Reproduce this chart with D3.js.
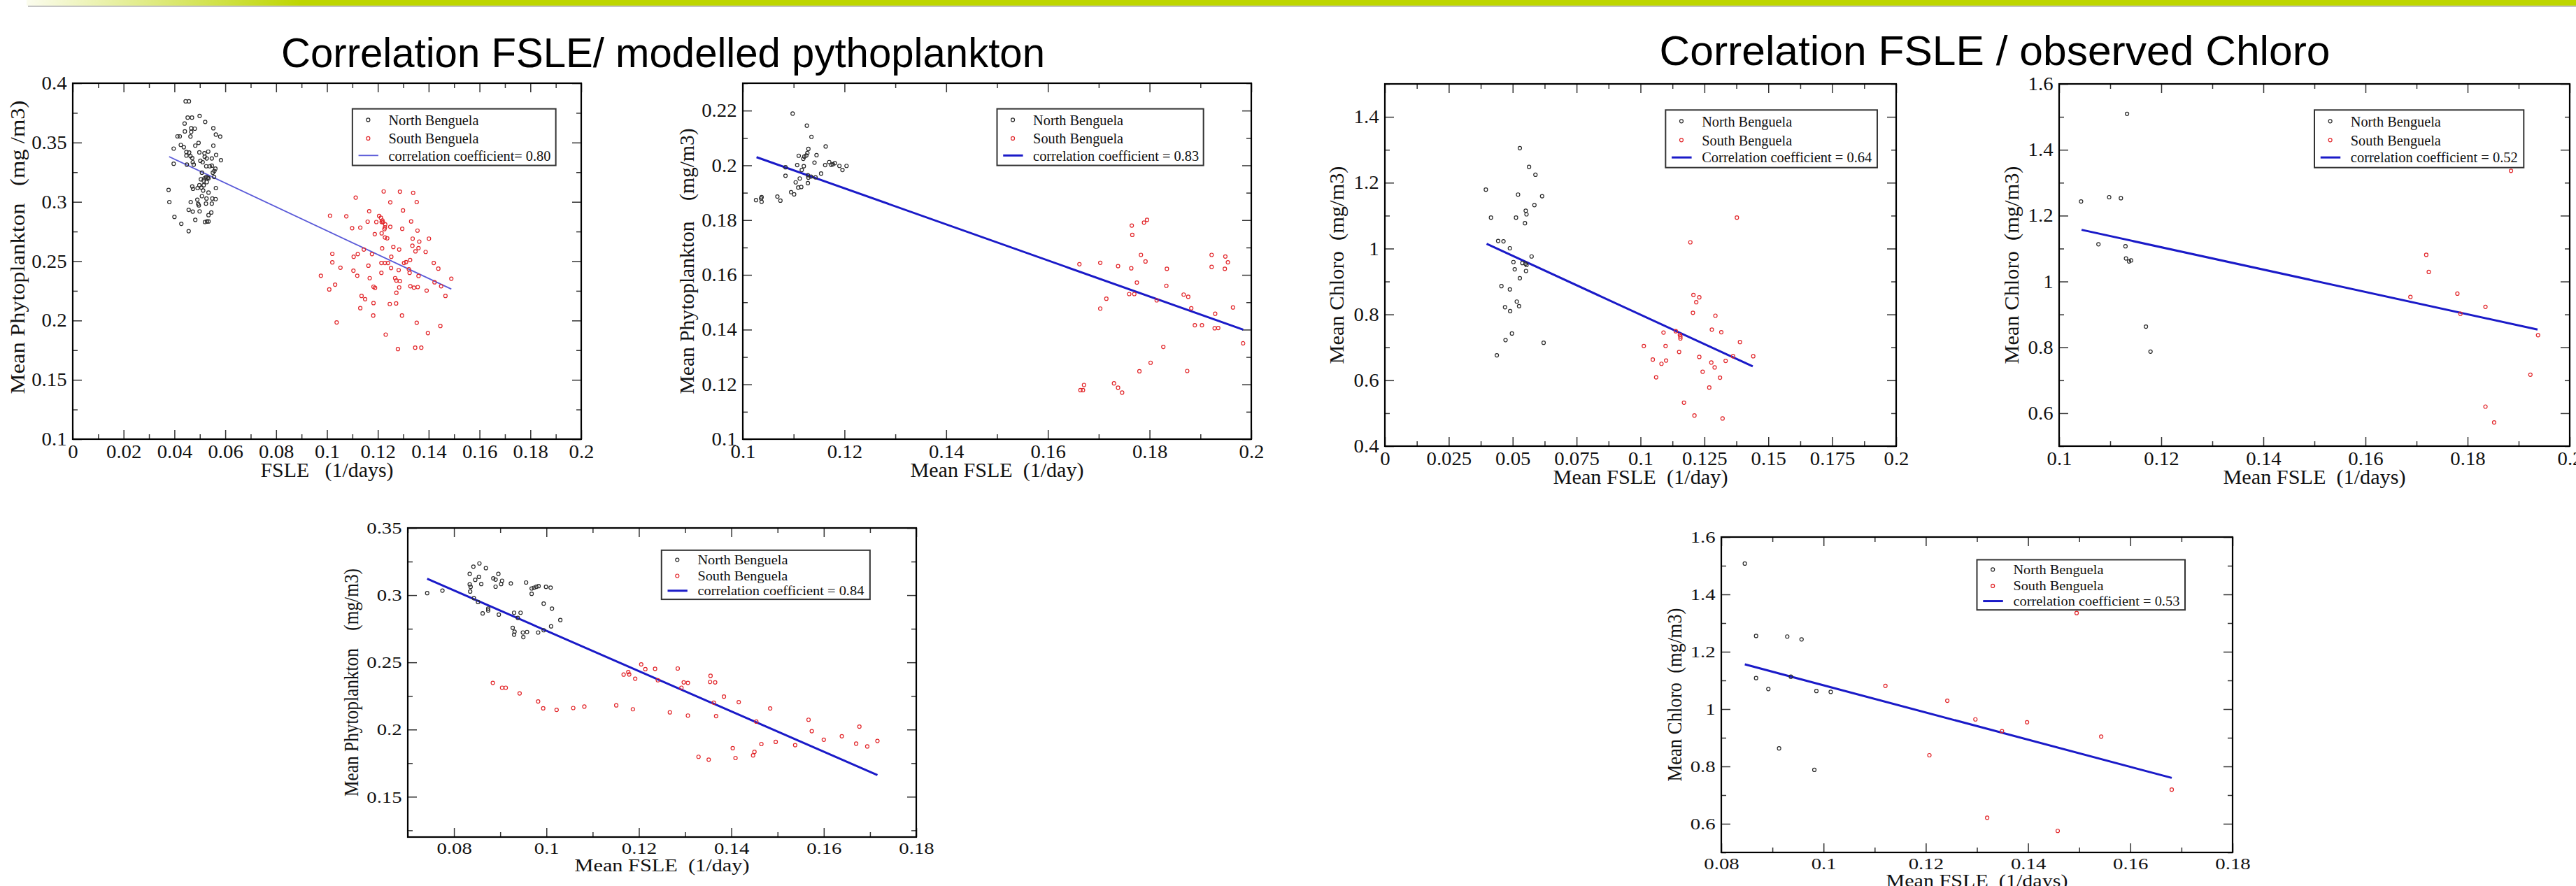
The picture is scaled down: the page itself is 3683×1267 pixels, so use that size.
<!DOCTYPE html>
<html>
<head>
<meta charset="utf-8">
<script src="https://cdn.jsdelivr.net/npm/d3@7"></script>
<style>
body { margin: 0; background: #fff; }
text { white-space: pre; }
</style>
</head>
<body>
<div class="svg-container"></div>
<script>
// Slide titles
var slideTitles = ['Correlation FSLE/ modelled pythoplankton', 'Correlation FSLE / observed Chloro'];
var seriesNames = ['North Benguela', 'South Benguela'];

// Axis titles and legend labels, one per panel
var xTitles = ['FSLE   (1/days)', 'Mean FSLE  (1/day)', 'Mean FSLE  (1/day)', 'Mean FSLE  (1/days)', 'Mean FSLE  (1/day)', 'Mean FSLE  (1/days)'];
var yTitles = ['Mean Phytoplankton   (mg /m3)', 'Mean Phytoplankton    (mg/m3)', 'Mean Chloro  (mg/m3)', 'Mean Chloro  (mg/m3)', 'Mean Phytoplankton    (mg/m3)', 'Mean Chloro  (mg/m3)'];
var fitLabels = ['correlation coefficient= 0.80', 'correlation coefficient = 0.83', 'Correlation coefficient = 0.64', 'correlation coefficient = 0.52', 'correlation coefficient = 0.84', 'correlation coefficient = 0.53'];

// Panel 1: FSLE vs modelled phytoplankton
var p1North = [[0.0444,0.3847],[0.0457,0.3847],[0.0452,0.371],[0.0469,0.371],[0.0499,0.3724],[0.0521,0.3674],[0.044,0.366],[0.0466,0.362],[0.048,0.3617],[0.0466,0.359],[0.0441,0.3594],[0.0553,0.362],[0.0563,0.3567],[0.058,0.355],[0.0412,0.3552],[0.0421,0.3552],[0.0463,0.3551],[0.0495,0.3497],[0.0425,0.348],[0.0397,0.3449],[0.0437,0.346],[0.0482,0.3474],[0.0553,0.3474],[0.0447,0.342],[0.0458,0.3416],[0.0498,0.3417],[0.0518,0.341],[0.0533,0.3424],[0.0564,0.3396],[0.0447,0.339],[0.0463,0.3385],[0.047,0.3369],[0.0519,0.338],[0.0527,0.3366],[0.0547,0.3366],[0.0583,0.3351],[0.0397,0.3321],[0.0449,0.3314],[0.0472,0.3334],[0.0476,0.3314],[0.0502,0.3346],[0.0511,0.3334],[0.0525,0.33],[0.0539,0.33],[0.0547,0.3305],[0.0561,0.328],[0.0508,0.3246],[0.0551,0.3246],[0.0557,0.326],[0.0525,0.3209],[0.0531,0.3204],[0.0518,0.3198],[0.0504,0.319],[0.0515,0.318],[0.0527,0.3166],[0.0534,0.3198],[0.0556,0.321],[0.0515,0.314],[0.0498,0.314],[0.0506,0.312],[0.047,0.313],[0.0473,0.311],[0.0491,0.3116],[0.0513,0.3096],[0.0377,0.3101],[0.0563,0.3116],[0.0534,0.3078],[0.0508,0.3048],[0.0526,0.3028],[0.0549,0.3028],[0.049,0.3018],[0.038,0.2998],[0.0464,0.2998],[0.0562,0.3023],[0.0493,0.2983],[0.0496,0.297],[0.0524,0.2985],[0.0547,0.2985],[0.0456,0.2933],[0.0472,0.2918],[0.0499,0.292],[0.0545,0.291],[0.0534,0.2888],[0.04,0.2873],[0.0482,0.2848],[0.052,0.283],[0.0528,0.2835],[0.0534,0.2835],[0.0427,0.2815],[0.0456,0.2753]];
var p1South = [[0.1223,0.3088],[0.1287,0.3086],[0.1339,0.3076],[0.1113,0.3036],[0.1249,0.2996],[0.1353,0.2998],[0.1166,0.2921],[0.1299,0.2928],[0.1012,0.2883],[0.1076,0.2878],[0.1205,0.2881],[0.1212,0.2866],[0.1218,0.2843],[0.1215,0.283],[0.122,0.2828],[0.116,0.2833],[0.1194,0.283],[0.1331,0.2835],[0.1229,0.281],[0.1228,0.2785],[0.1226,0.277],[0.1099,0.2778],[0.1131,0.2783],[0.1249,0.279],[0.1296,0.2773],[0.1356,0.2758],[0.1188,0.2728],[0.1215,0.2735],[0.1228,0.27],[0.1237,0.2693],[0.1337,0.269],[0.1363,0.2665],[0.1401,0.269],[0.1336,0.263],[0.1261,0.262],[0.1217,0.2608],[0.136,0.261],[0.1284,0.2598],[0.1145,0.2598],[0.1348,0.2583],[0.1388,0.2578],[0.1021,0.2562],[0.1121,0.256],[0.1177,0.256],[0.1105,0.2537],[0.1253,0.2537],[0.1327,0.251],[0.1311,0.2492],[0.1303,0.2485],[0.1021,0.249],[0.1214,0.2485],[0.1228,0.2485],[0.124,0.2485],[0.142,0.2485],[0.1163,0.2462],[0.1053,0.2445],[0.1252,0.2442],[0.1438,0.2437],[0.1282,0.2425],[0.1104,0.242],[0.1322,0.2432],[0.1325,0.2402],[0.1214,0.2402],[0.1119,0.2377],[0.0976,0.2377],[0.136,0.2375],[0.1489,0.2352],[0.1168,0.2357],[0.1268,0.2357],[0.1273,0.2337],[0.1287,0.2332],[0.1423,0.2322],[0.1032,0.2302],[0.1328,0.2289],[0.1342,0.2277],[0.1357,0.2282],[0.1449,0.2289],[0.1284,0.2279],[0.1183,0.2285],[0.1189,0.2275],[0.1009,0.2262],[0.1392,0.2252],[0.1273,0.2234],[0.1466,0.2207],[0.1136,0.2207],[0.115,0.218],[0.1183,0.2147],[0.1247,0.2139],[0.1272,0.2144],[0.1131,0.2104],[0.1182,0.2042],[0.1295,0.2042],[0.1038,0.1984],[0.1353,0.1981],[0.1446,0.1954],[0.1231,0.1881],[0.1397,0.1894],[0.1347,0.1771],[0.1371,0.1771],[0.1279,0.1759]];
var p1Fit = [[0.0379,0.3381],[0.1489,0.2265]];

// Panel 2: mean FSLE vs modelled phytoplankton
var p2North = [[0.1098,0.2189],[0.1126,0.2145],[0.1135,0.2104],[0.1163,0.2069],[0.1129,0.206],[0.111,0.2035],[0.1125,0.2036],[0.1127,0.2045],[0.1145,0.2037],[0.1119,0.2024],[0.1121,0.2032],[0.1141,0.201],[0.117,0.2012],[0.1177,0.2004],[0.1181,0.2008],[0.1174,0.2002],[0.1162,0.2001],[0.119,0.1998],[0.1204,0.1998],[0.1196,0.1983],[0.1107,0.2001],[0.112,0.1997],[0.1116,0.1983],[0.1084,0.1993],[0.1084,0.1962],[0.1154,0.197],[0.1128,0.1964],[0.1134,0.1959],[0.1129,0.1955],[0.1112,0.1952],[0.1143,0.1956],[0.1104,0.1938],[0.1128,0.1935],[0.1109,0.1919],[0.1115,0.1921],[0.1095,0.1902],[0.1101,0.1894],[0.1026,0.1873],[0.1036,0.1879],[0.1037,0.1884],[0.1037,0.1867],[0.1068,0.1886],[0.1074,0.1871]];
var p2South = [[0.1662,0.1639],[0.1703,0.1644],[0.1738,0.1632],[0.1764,0.1624],[0.1765,0.178],[0.1766,0.1746],[0.1789,0.1791],[0.1795,0.1801],[0.1783,0.1673],[0.1792,0.1649],[0.1775,0.1572],[0.1834,0.1622],[0.1833,0.156],[0.176,0.153],[0.177,0.153],[0.1715,0.1513],[0.1814,0.1507],[0.1867,0.1528],[0.1876,0.152],[0.1882,0.1478],[0.1703,0.1477],[0.1922,0.1673],[0.1949,0.1667],[0.1922,0.1629],[0.1948,0.1622],[0.1954,0.1646],[0.1964,0.1481],[0.1929,0.1458],[0.1889,0.1416],[0.1903,0.1416],[0.1928,0.1405],[0.1935,0.1406],[0.1984,0.135],[0.1827,0.1337],[0.1802,0.1279],[0.178,0.1248],[0.1874,0.1249],[0.1664,0.1179],[0.1669,0.1179],[0.1671,0.1198],[0.173,0.1204],[0.1738,0.1188],[0.1746,0.117]];
var p2Fit = [[0.1027,0.203],[0.1984,0.14]];

// Panel 3: FSLE vs observed chlorophyll
var p3North = [[0.0528,1.305],[0.0564,1.248],[0.0589,1.224],[0.0395,1.179],[0.0521,1.164],[0.0615,1.159],[0.0585,1.132],[0.0551,1.115],[0.0554,1.104],[0.0415,1.094],[0.0513,1.094],[0.0548,1.077],[0.0443,1.023],[0.0464,1.022],[0.0489,1.001],[0.0574,0.976],[0.0503,0.959],[0.0538,0.956],[0.0554,0.95],[0.055,0.954],[0.0508,0.937],[0.0552,0.932],[0.0528,0.91],[0.0456,0.886],[0.0489,0.876],[0.0516,0.839],[0.047,0.822],[0.0525,0.825],[0.049,0.81],[0.0497,0.742],[0.0472,0.722],[0.0621,0.714],[0.0438,0.676]];
var p3South = [[0.1377,1.094],[0.1195,1.019],[0.1207,0.859],[0.123,0.852],[0.1218,0.837],[0.1205,0.805],[0.1293,0.796],[0.1279,0.754],[0.1316,0.746],[0.109,0.745],[0.1138,0.749],[0.1156,0.733],[0.1156,0.727],[0.1154,0.738],[0.1389,0.716],[0.1013,0.704],[0.1098,0.704],[0.1151,0.686],[0.123,0.671],[0.1362,0.673],[0.1441,0.673],[0.1048,0.663],[0.11,0.66],[0.1333,0.659],[0.1277,0.654],[0.1082,0.65],[0.129,0.639],[0.1243,0.626],[0.1061,0.609],[0.1311,0.608],[0.1269,0.578],[0.117,0.532],[0.1211,0.493],[0.1321,0.484]];
var p3Fit = [[0.0398,1.0144],[0.1439,0.6423]];

// Panel 4: mean FSLE vs observed chlorophyll
var p4North = [[0.1133,1.509],[0.1043,1.243],[0.1098,1.256],[0.1121,1.253],[0.1077,1.113],[0.113,1.107],[0.1131,1.07],[0.1137,1.061],[0.1141,1.064],[0.117,0.863],[0.1179,0.787]];
var p4South = [[0.1885,1.336],[0.1719,1.081],[0.1724,1.029],[0.1688,0.953],[0.178,0.963],[0.1835,0.923],[0.1786,0.902],[0.1938,0.837],[0.1923,0.717],[0.1835,0.62],[0.1852,0.572]];
var p4Fit = [[0.1044,1.157],[0.1937,0.854]];

// Panel 5: mean FSLE vs modelled phytoplankton (bottom)
var p5North = [[0.0742,0.3015],[0.0775,0.3034],[0.0855,0.3236],[0.0842,0.3212],[0.0869,0.3201],[0.0834,0.3158],[0.0896,0.3158],[0.0854,0.3136],[0.0846,0.3114],[0.0885,0.3125],[0.089,0.3116],[0.0904,0.3107],[0.0923,0.3087],[0.0859,0.3083],[0.0902,0.3083],[0.0834,0.308],[0.0836,0.3062],[0.089,0.3063],[0.0835,0.3027],[0.0956,0.3094],[0.0968,0.305],[0.0973,0.3055],[0.0978,0.3062],[0.0983,0.3067],[0.0999,0.3062],[0.1009,0.3056],[0.0968,0.301],[0.0843,0.2978],[0.0852,0.2949],[0.0874,0.29],[0.0874,0.2886],[0.0862,0.2864],[0.0897,0.2855],[0.093,0.2869],[0.0944,0.2869],[0.0938,0.2831],[0.0994,0.2937],[0.1012,0.29],[0.103,0.2815],[0.101,0.2768],[0.0927,0.2757],[0.0931,0.2728],[0.093,0.2706],[0.0949,0.2722],[0.0958,0.2726],[0.095,0.2688],[0.0982,0.2722],[0.0994,0.2739]];
var p5South = [[0.0884,0.2347],[0.0904,0.2311],[0.0912,0.2311],[0.0942,0.2269],[0.0982,0.2209],[0.0993,0.2158],[0.1022,0.2146],[0.1058,0.216],[0.1082,0.2171],[0.1151,0.218],[0.1187,0.2151],[0.1167,0.2409],[0.1179,0.241],[0.1177,0.2427],[0.1205,0.2485],[0.1214,0.2449],[0.1235,0.2452],[0.1192,0.2378],[0.1241,0.2367],[0.1284,0.2454],[0.1297,0.2351],[0.1306,0.2347],[0.1292,0.2311],[0.1355,0.24],[0.1354,0.2354],[0.1365,0.2351],[0.1362,0.22],[0.1367,0.21],[0.1384,0.2245],[0.1416,0.2204],[0.1306,0.2104],[0.1267,0.2128],[0.1484,0.2157],[0.1454,0.2059],[0.1567,0.2073],[0.1574,0.1988],[0.1677,0.2022],[0.1639,0.195],[0.16,0.1924],[0.1496,0.1908],[0.1538,0.1884],[0.1465,0.1892],[0.167,0.1895],[0.1694,0.1874],[0.1716,0.1915],[0.1403,0.1861],[0.145,0.1834],[0.1447,0.1808],[0.1409,0.1788],[0.1329,0.1797],[0.1351,0.1776]];
var p5Fit = [[0.0742,0.3122],[0.1716,0.1661]];

// Panel 6: mean FSLE vs observed chlorophyll (bottom)
var p6North = [[0.0846,1.5075],[0.0868,1.255],[0.0929,1.253],[0.0957,1.243],[0.0868,1.108],[0.0936,1.113],[0.0892,1.07],[0.0986,1.063],[0.1014,1.06],[0.0913,0.863],[0.0982,0.788]];
var p6South = [[0.1495,1.335],[0.1121,1.081],[0.1242,1.029],[0.1297,0.964],[0.1398,0.954],[0.1349,0.923],[0.1543,0.904],[0.1207,0.839],[0.1681,0.719],[0.132,0.621],[0.1458,0.575]];
var p6Fit = [[0.0846,1.156],[0.1681,0.76]];

// Axis ranges and tick steps
var xDomains = [[0, 0.2], [0.1, 0.2], [0, 0.2], [0.1, 0.2], [0.07, 0.18], [0.08, 0.18]];
var yDomains = [[0.1, 0.4], [0.1, 0.23], [0.4, 1.5], [0.5, 1.6], [0.12, 0.35], [0.5, 1.6]];
var xSteps = [0.02, 0.02, 0.025, 0.02, 0.02, 0.02];
var ySteps = [0.05, 0.02, 0.2, 0.2, 0.05, 0.2];

var width = 3683;
var height = 1267;
var serif = '"Liberation Serif", "Times New Roman", serif';
var sans = '"Liberation Sans", Arial, sans-serif';

// Frame boxes [left, top, right, bottom]; sy = vertical text stretch of that picture
var panels = [
	{ box: [104, 119, 831, 628], sy: 1.12, north: p1North, south: p1South, fit: p1Fit, legendX: [0.55, 0.95], fitColor: '#5a5ad8', fitWidth: 1.8, yTitleGap: 79, yTitleShift: -20, yTitleLen: 420, xTitleLen: 190, fitLabelLen: 232 },
	{ box: [1062, 119, 1789, 628], sy: 1.12, north: p2North, south: p2South, fit: p2Fit, legendX: [0.5, 0.906], fitColor: '#1a1ac8', fitWidth: 3, yTitleGap: 80, yTitleShift: 0, yTitleLen: 380, xTitleLen: 248, fitLabelLen: 237 },
	{ box: [1980, 120, 2711, 638], sy: 1.12, north: p3North, south: p3South, fit: p3Fit, legendX: [0.549, 0.963], fitColor: '#1a1ac8', fitWidth: 3, yTitleGap: 69, yTitleShift: 0, yTitleLen: 283, xTitleLen: 250, fitLabelLen: 243 },
	{ box: [2944, 120, 3674, 638], sy: 1.12, north: p4North, south: p4South, fit: p4Fit, legendX: [0.5, 0.91], fitColor: '#1a1ac8', fitWidth: 3, yTitleGap: 68, yTitleShift: 0, yTitleLen: 283, xTitleLen: 261, fitLabelLen: 239 },
	{ box: [583, 755, 1310, 1197], sy: 1, north: p5North, south: p5South, fit: p5Fit, legendX: [0.499, 0.909], fitColor: '#1a1ac8', fitWidth: 3, yTitleGap: 81, yTitleShift: 0, yTitleLen: 326, xTitleLen: 250, fitLabelLen: 238 },
	{ box: [2461, 768, 3192, 1219], sy: 1, north: p6North, south: p6South, fit: p6Fit, legendX: [0.5, 0.907], fitColor: '#1a1ac8', fitWidth: 3, yTitleGap: 67, yTitleShift: 0, yTitleLen: 248, xTitleLen: 260, fitLabelLen: 238 }
];
var nameLen = 129;

// Create SVG element
var svg = d3.select('.svg-container')
	.append('svg')
	.attr('width', width)
	.attr('height', height)
	.style('display', 'block');

svg.append('rect')
	.attr('width', width)
	.attr('height', height)
	.attr('fill', '#fff');

// Green header bar
var grad = svg.append('defs')
	.append('linearGradient')
	.attr('id', 'bar')
	.attr('gradientUnits', 'userSpaceOnUse')
	.attr('x1', 38).attr('x2', 430).attr('y1', 0).attr('y2', 0);
grad.append('stop').attr('offset', 0).attr('stop-color', '#fbfcee');
grad.append('stop').attr('offset', 1).attr('stop-color', '#bed600');

svg.append('rect')
	.attr('x', 38).attr('y', 0)
	.attr('width', width - 38).attr('height', 8)
	.attr('fill', 'url(#bar)');
svg.append('rect')
	.attr('x', 40).attr('y', 8)
	.attr('width', width - 40).attr('height', 2)
	.attr('fill', '#c4c4c4');

// Slide titles
svg.selectAll('text.slide-title')
	.data(slideTitles)
	.enter()
	.append('text')
	.attr('class', 'slide-title')
	.attr('x', function(d, i) { return i === 0 ? 948 : 2852; })
	.attr('y', function(d, i) { return i === 0 ? 96 : 93; })
	.attr('text-anchor', 'middle')
	.attr('textLength', function(d, i) { return i === 0 ? 1092 : 959; })
	.attr('lengthAdjust', 'spacingAndGlyphs')
	.attr('font-family', sans)
	.attr('font-size', 60)
	.attr('fill', '#000')
	.text(function(d) { return d; });

function tickRange(domain, step) {
	var out = [];
	var i0 = Math.ceil(domain[0] / step - 1e-6);
	var i1 = Math.floor(domain[1] / step + 1e-6);
	for (var i = i0; i <= i1; i++) out.push(+(i * step).toFixed(6));
	return out;
}

function minorRange(domain, step) {
	var major = tickRange(domain, step);
	return tickRange(domain, step / 2).filter(function(v) {
		return major.indexOf(v) < 0;
	});
}

function fmt(v) {
	return String(+v.toFixed(4));
}

function styleAxis(g, sy, withLabels) {
	g.select('.domain').remove();
	g.attr('font-family', serif)
		.attr('font-size', 24)
		.attr('color', '#333');
	g.selectAll('.tick line').attr('stroke-width', 1.5);
	if (withLabels) {
		g.selectAll('.tick text')
			.attr('fill', '#111')
			.attr('transform', 'scale(1.2,' + sy + ')');
	}
}

function drawPanel(p, idx) {
	var L = p.box[0], T = p.box[1], R = p.box[2], B = p.box[3];
	var xDomain = xDomains[idx], yDomain = yDomains[idx];
	var sy = p.sy;

	// Set up scales
	var xScale = d3.scaleLinear().domain(xDomain).range([L, R]);
	var yScale = d3.scaleLinear().domain(yDomain).range([B, T]);

	var xMajor = tickRange(xDomain, xSteps[idx]);
	var xMinor = minorRange(xDomain, xSteps[idx]);
	var yMajor = tickRange(yDomain, ySteps[idx]);
	var yMinor = minorRange(yDomain, ySteps[idx]);

	var g = svg.append('g').attr('class', 'panel');

	// Inward ticks on all four sides
	g.append('g').attr('transform', 'translate(0,' + B + ')')
		.call(d3.axisBottom(xScale).tickValues(xMajor).tickSize(-13).tickPadding(7).tickFormat(fmt))
		.call(styleAxis, sy, true);
	g.append('g').attr('transform', 'translate(0,' + B + ')')
		.call(d3.axisBottom(xScale).tickValues(xMinor).tickSize(-7).tickFormat(''))
		.call(styleAxis, sy, false);
	g.append('g').attr('transform', 'translate(0,' + T + ')')
		.call(d3.axisTop(xScale).tickValues(xMajor).tickSize(-13).tickFormat(''))
		.call(styleAxis, sy, false);
	g.append('g').attr('transform', 'translate(0,' + T + ')')
		.call(d3.axisTop(xScale).tickValues(xMinor).tickSize(-7).tickFormat(''))
		.call(styleAxis, sy, false);
	g.append('g').attr('transform', 'translate(' + L + ',0)')
		.call(d3.axisLeft(yScale).tickValues(yMajor).tickSize(-13).tickPadding(7).tickFormat(fmt))
		.call(styleAxis, sy, true);
	g.append('g').attr('transform', 'translate(' + L + ',0)')
		.call(d3.axisLeft(yScale).tickValues(yMinor).tickSize(-7).tickFormat(''))
		.call(styleAxis, sy, false);
	g.append('g').attr('transform', 'translate(' + R + ',0)')
		.call(d3.axisRight(yScale).tickValues(yMajor).tickSize(-13).tickFormat(''))
		.call(styleAxis, sy, false);
	g.append('g').attr('transform', 'translate(' + R + ',0)')
		.call(d3.axisRight(yScale).tickValues(yMinor).tickSize(-7).tickFormat(''))
		.call(styleAxis, sy, false);

	// Frame
	g.append('rect')
		.attr('x', L).attr('y', T)
		.attr('width', R - L).attr('height', B - T)
		.attr('fill', 'none')
		.attr('stroke', '#000')
		.attr('stroke-width', 2.2);

	// Regression line
	g.append('line')
		.attr('x1', xScale(p.fit[0][0])).attr('y1', yScale(p.fit[0][1]))
		.attr('x2', xScale(p.fit[1][0])).attr('y2', yScale(p.fit[1][1]))
		.attr('stroke', p.fitColor)
		.attr('stroke-width', p.fitWidth);

	// Draw points
	var groups = [
		{ pts: p.north, color: '#2a2a2a' },
		{ pts: p.south, color: '#e2262a' }
	];
	groups.forEach(function(s) {
		g.append('g').selectAll('circle')
			.data(s.pts)
			.enter()
			.append('circle')
			.attr('cx', function(d) { return xScale(d[0]); })
			.attr('cy', function(d) { return yScale(d[1]); })
			.attr('r', 2.5)
			.attr('fill', 'none')
			.attr('stroke', s.color)
			.attr('stroke-width', 1.2);
	});

	// Axis titles
	g.append('text')
		.attr('transform', 'translate(' + ((L + R) / 2) + ',' + (B + 40 * sy + 9) + ') scale(1,' + sy + ')')
		.attr('text-anchor', 'middle')
		.attr('textLength', p.xTitleLen)
		.attr('lengthAdjust', 'spacingAndGlyphs')
		.attr('font-family', serif)
		.attr('font-size', 26)
		.attr('fill', '#111')
		.text(xTitles[idx]);
	g.append('text')
		.attr('transform', 'translate(' + (L - p.yTitleGap) + ',' + ((T + B) / 2 + p.yTitleShift) + ') rotate(-90)')
		.attr('text-anchor', 'middle')
		.attr('dy', '0.35em')
		.attr('textLength', p.yTitleLen)
		.attr('lengthAdjust', 'spacingAndGlyphs')
		.attr('font-family', serif)
		.attr('font-size', 29)
		.attr('fill', '#111')
		.text(yTitles[idx]);

	// Legend
	var w = R - L, h = B - T;
	var lx0 = L + p.legendX[0] * w;
	var lx1 = L + p.legendX[1] * w;
	var rows = [0.103, 0.155, 0.203].map(function(f) { return T + f * h; });
	var legend = g.append('g').attr('class', 'legend');
	legend.append('rect')
		.attr('x', lx0).attr('y', T + 0.072 * h)
		.attr('width', lx1 - lx0).attr('height', 0.159 * h)
		.attr('fill', '#fff')
		.attr('stroke', '#333')
		.attr('stroke-width', 2);
	legend.selectAll('circle')
		.data([groups[0].color, groups[1].color])
		.enter()
		.append('circle')
		.attr('cx', lx0 + 0.031 * w)
		.attr('cy', function(d, i) { return rows[i]; })
		.attr('r', 2.5)
		.attr('fill', 'none')
		.attr('stroke', function(d) { return d; })
		.attr('stroke-width', 1.2);
	legend.append('line')
		.attr('x1', lx0 + 0.012 * w).attr('x2', lx0 + 0.051 * w)
		.attr('y1', rows[2]).attr('y2', rows[2])
		.attr('stroke', p.fitColor)
		.attr('stroke-width', p.fitWidth);
	legend.selectAll('text')
		.data([seriesNames[0], seriesNames[1], fitLabels[idx]])
		.enter()
		.append('text')
		.attr('transform', function(d, i) {
			return 'translate(' + (lx0 + 0.071 * w) + ',' + (rows[i] + 6.5 * sy) + ') scale(1,' + sy + ')';
		})
		.attr('textLength', function(d, i) { return i < 2 ? nameLen : p.fitLabelLen; })
		.attr('lengthAdjust', 'spacingAndGlyphs')
		.attr('font-family', serif)
		.attr('font-size', 18)
		.attr('fill', '#111')
		.text(function(d) { return d; });
}

panels.forEach(drawPanel);
</script>
</body>
</html>
